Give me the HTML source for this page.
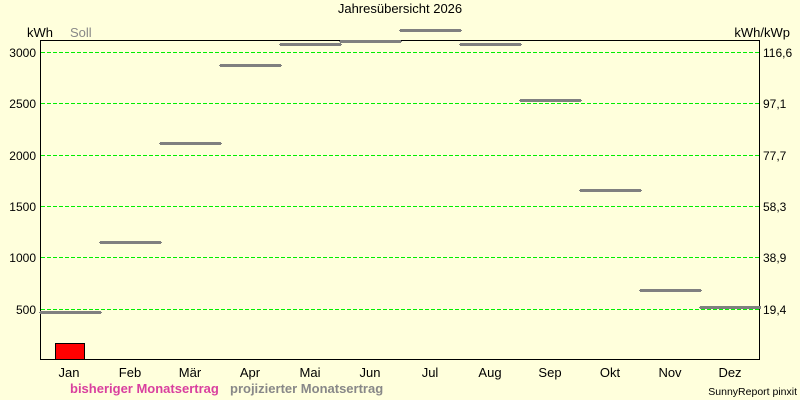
<!DOCTYPE html>
<html><head><meta charset="utf-8"><style>
html,body{margin:0;padding:0;background:#ffffdc;}
svg{display:block;}
text{font-family:"Liberation Sans",Arial,sans-serif;}
</style></head><body>
<svg width="800" height="400" viewBox="0 0 800 400" xmlns="http://www.w3.org/2000/svg">
<rect x="0" y="0" width="800" height="400" fill="#ffffdc"/>
<text x="400" y="13" font-size="13" text-anchor="middle" fill="#000">Jahresübersicht 2026</text>
<text x="27" y="37" font-size="13" fill="#000">kWh</text>
<text x="70" y="37" font-size="13" fill="#888">Soll</text>
<text x="790" y="37" font-size="13" text-anchor="end" fill="#000">kWh/kWp</text>
<g stroke="#00ee00" stroke-width="1" stroke-dasharray="4,2">
<line x1="41" y1="52.5" x2="759" y2="52.5"/>
<line x1="41" y1="103.5" x2="759" y2="103.5"/>
<line x1="41" y1="155.5" x2="759" y2="155.5"/>
<line x1="41" y1="206.5" x2="759" y2="206.5"/>
<line x1="41" y1="257.5" x2="759" y2="257.5"/>
<line x1="41" y1="309.5" x2="759" y2="309.5"/>
</g>
<g font-size="12" text-anchor="end" fill="#000">
<text x="36" y="57">3000</text>
<text x="36" y="108">2500</text>
<text x="36" y="160">2000</text>
<text x="36" y="211">1500</text>
<text x="36" y="262">1000</text>
<text x="36" y="314">500</text>
</g>
<g font-size="12" fill="#000">
<text x="763" y="57">116,6</text>
<text x="763" y="108">97,1</text>
<text x="763" y="160">77,7</text>
<text x="763" y="211">58,3</text>
<text x="763" y="262">38,9</text>
<text x="763" y="314">19,4</text>
</g>
<rect x="55.5" y="343.5" width="29" height="16" fill="#ff0000" stroke="#000" stroke-width="1"/>
<rect x="40.5" y="40.5" width="719" height="319" fill="none" stroke="#000" stroke-width="1"/>
<g fill="#808080">
<rect x="40" y="311" width="61" height="3"/><rect x="39" y="312" width="63" height="1"/>
<rect x="100" y="241" width="61" height="3"/><rect x="99" y="242" width="63" height="1"/>
<rect x="160" y="142" width="61" height="3"/><rect x="159" y="143" width="63" height="1"/>
<rect x="220" y="64" width="61" height="3"/><rect x="219" y="65" width="63" height="1"/>
<rect x="280" y="43" width="61" height="3"/><rect x="279" y="44" width="63" height="1"/>
<rect x="340" y="40" width="61" height="3"/><rect x="339" y="41" width="63" height="1"/>
<rect x="400" y="29" width="61" height="3"/><rect x="399" y="30" width="63" height="1"/>
<rect x="460" y="43" width="61" height="3"/><rect x="459" y="44" width="63" height="1"/>
<rect x="520" y="99" width="61" height="3"/><rect x="519" y="100" width="63" height="1"/>
<rect x="580" y="189" width="61" height="3"/><rect x="579" y="190" width="63" height="1"/>
<rect x="640" y="289" width="61" height="3"/><rect x="639" y="290" width="63" height="1"/>
<rect x="700" y="306" width="61" height="3"/><rect x="699" y="307" width="62" height="1"/>
</g>
<g font-size="13" text-anchor="middle" fill="#000">
<text x="69" y="377">Jan</text>
<text x="130" y="377">Feb</text>
<text x="190" y="377">Mär</text>
<text x="250" y="377">Apr</text>
<text x="310" y="377">Mai</text>
<text x="370" y="377">Jun</text>
<text x="430" y="377">Jul</text>
<text x="490" y="377">Aug</text>
<text x="550" y="377">Sep</text>
<text x="610" y="377">Okt</text>
<text x="670" y="377">Nov</text>
<text x="730" y="377">Dez</text>
</g>
<text x="70" y="393" font-size="13" font-weight="bold" fill="#d9409f">bisheriger Monatsertrag</text>
<text x="230" y="393" font-size="13" font-weight="bold" fill="#888888">projizierter Monatsertrag</text>
<text x="797" y="395" font-size="10.5" text-anchor="end" fill="#000">SunnyReport pinxit</text>
</svg>
</body></html>
